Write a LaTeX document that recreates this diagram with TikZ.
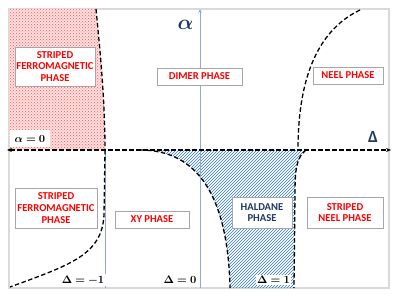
\documentclass[tikz,border=0pt]{standalone}
\usepackage{fontspec}
\setmainfont{Carlito}
\usepackage{amsmath,bm}
\usetikzlibrary{arrows.meta,patterns}
\definecolor{pr}{RGB}{255,0,0}
\definecolor{nv}{RGB}{31,56,100}
\definecolor{lb}{RGB}{143,170,220}
\definecolor{hb}{RGB}{46,117,182}
\tikzset{ph/.style={draw=gray!70,fill=white,line width=.8pt,align=center,inner sep=1pt,text=pr,font=\fontsize{10.6}{11.8}\selectfont\bfseries},
 hd/.style={ph,text=nv},
 lab/.style={fill=white,inner sep=1.5pt,font=\fontsize{10.5}{12}\selectfont},
 bd/.style={dash pattern=on 4.5pt off 2.5pt,line width=1.3pt},
 vax/.style={draw=lb,line width=.8pt},
 big/.style={text=nv,inner sep=0pt}}
\begin{document}
\begin{tikzpicture}[x=1pt,y=-1pt]
\useasboundingbox (0,0) rectangle (399,299);
\draw[gray!30,line width=1.5pt] (9,9) rectangle (389,288);
\path[fill=red!12,postaction={pattern=crosshatch dots,pattern color=red!65}] (9,9) -- (96,9) .. controls (100,50) and (105,100) .. (105,150) -- (9,150) -- cycle;
\path[pattern=north east lines,pattern color=hb] (140,150) -- (306,150) .. controls (296,158) and (295,170) .. (295,195) -- (294,288) -- (230,288) .. controls (228,200) and (200,150) .. (140,150);
\coordinate (xl) at (7,150);\coordinate (xr) at (391,150);
\coordinate (yt) at (200,9);\coordinate (yb) at (200,288);
\coordinate (m1) at (105,150);\coordinate (m1b) at (105,288);
\draw[vax,-{Stealth[length=4pt,width=3.5pt]}] (yb)--(yt);\draw[vax] (m1)--(m1b);
\draw[bd,{Stealth[length=5pt,width=4pt]}-{Stealth[length=5pt,width=4pt]}] (xl)--(xr);
\draw[bd] (96,9) .. controls (100,50) and (105,100) .. (105,150);
\draw[bd] (105,150) -- (104,215) .. controls (102,255) and (70,265) .. (10,287);
\draw[bd] (140,150) .. controls (200,150) and (228,200) .. (230,288);
\draw[bd] (306,150) .. controls (296,158) and (295,170) .. (295,195) -- (294,288);
\draw[bd] (360,10) .. controls (314,32) and (298,85) .. (298,150);
\node[ph,minimum width=80pt,minimum height=39pt] (sf1) at (55,66.5) {STRIPED\\FERROMAGNETIC\\PHASE};
\node[ph,minimum width=85pt,minimum height=17pt] (dm) at (199.5,76.5) {DIMER PHASE};
\node[ph,minimum width=70pt,minimum height=17pt] (ne) at (348,75.5) {NEEL PHASE};
\node[ph,minimum width=82pt,minimum height=40pt] (sf2) at (56,208) {STRIPED\\FERROMAGNETIC\\PHASE};
\node[ph,minimum width=74pt,minimum height=17pt] (xy) at (152,219.5) {XY PHASE};
\node[hd,minimum width=60pt,minimum height=31pt] (hl) at (262,212.5) {HALDANE\\PHASE};
\node[ph,minimum width=76pt,minimum height=31pt] (sn) at (345,212.5) {STRIPED\\NEEL PHASE};
\node[lab,minimum width=40pt,minimum height=17pt] (a0) at (30,138.5) {$\bm{\alpha=0}$};
\node[lab] (dm1) at (83,280) {$\bm{\Delta=-1}$};
\node[lab] (d0) at (180,280) {$\bm{\Delta=0}$};
\node[lab] (d1) at (273.5,280) {$\bm{\Delta=1}$};
\node[big,font=\fontsize{20}{20}\selectfont] (al) at (185.5,25) {$\bm{\alpha}$};
\node[big,font=\fontsize{17}{17}\selectfont\bfseries] (dl) at (373,137) {Δ};
\end{tikzpicture}
\end{document}
